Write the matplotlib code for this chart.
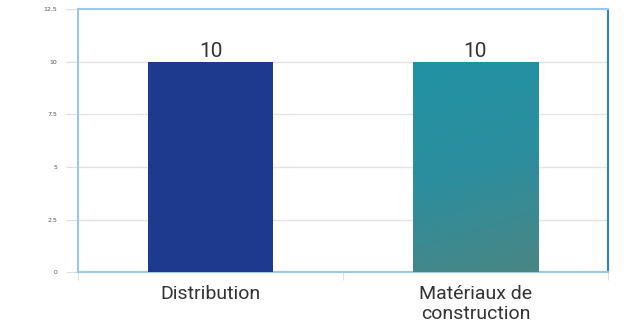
import matplotlib
matplotlib.use('Agg')
import matplotlib.pyplot as plt
import numpy as np
from matplotlib.colors import LinearSegmentedColormap

categories = ['Distribution', 'Matériaux de\nconstruction']
values = [10, 10]
yticks = [0, 2.5, 5, 7.5, 10, 12.5]
ytick_labels = ['0', '2.5', '5', '7.5', '10', '12.5']

fig = plt.figure(figsize=(6.3, 3.33), dpi=100)
ax = fig.add_axes([0.124, 0.183, 0.841, 0.789])

x = np.arange(len(categories))
bars = ax.bar(x, values, width=0.475, color=['#1d3a8f', '#2790a0'], zorder=3)

# gradient fill on the second bar
b = bars[1]
grad_cmap = LinearSegmentedColormap.from_list('teal', ['#4a8684', '#2c8e9e', '#2192a4'])
gx, gy = np.meshgrid(np.linspace(0, 1, 50), np.linspace(0, 1, 100))
g = gy * 0.85 - gx * 0.15
im = ax.imshow(g, cmap=grad_cmap, aspect='auto', origin='lower', zorder=3.5,
               extent=[b.get_x(), b.get_x() + b.get_width(), 0, b.get_height()])
im.set_clip_path(b)

ax.set_xlim(-0.5, 1.5)
ax.set_ylim(0, 12.5)

for xi, v in zip(x, values):
    ax.text(xi, v + 0.05, str(v), ha='center', va='bottom', fontsize=15,
            color='#333333', family='Roboto')

ax.set_yticks(yticks)
ax.set_yticklabels(ytick_labels, fontsize=4.5, color='#555555')
ax.tick_params(axis='y', length=9, width=0.8, color='#dddddd', pad=6)
ax.yaxis.grid(True, color='#e4e4e4', lw=1, zorder=0)
ax.set_axisbelow(True)

ax.set_xticks([-0.5, 0.5, 1.5])
ax.set_xticklabels([])
ax.tick_params(axis='x', length=6, width=0.8, color='#e0e0e0')
ax.set_xticks(x, minor=True)
ax.set_xticklabels(categories, minor=True, fontsize=14, color='#333333',
                   family='Roboto', linespacing=1.2)
ax.tick_params(axis='x', which='minor', length=0, pad=9)

for s in ['left', 'top', 'bottom']:
    ax.spines[s].set_color('#9cc6ea')
    ax.spines[s].set_linewidth(1.5)
ax.spines['right'].set_color('#2a7fd4')
ax.spines['right'].set_linewidth(1.5)

fig.savefig('out.png', dpi=100)
